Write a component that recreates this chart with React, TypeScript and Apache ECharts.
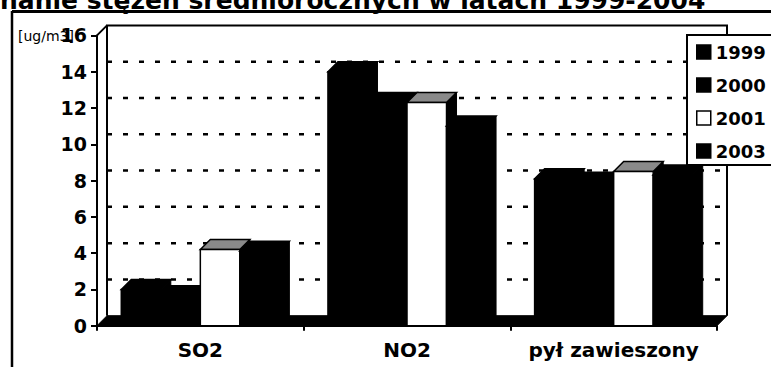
import React, { useEffect, useRef } from "react";
import * as echarts from "echarts";

const categories = ["SO2", "NO2", "pył zawieszony"];
const years = ["1999", "2000", "2001", "2003"];
const values1999 = [2.0, 14.0, 8.1];
const values2000 = [1.65, 12.3, 7.9];
const values2001 = [4.2, 12.3, 8.5];
const values2003 = [4.1, 11.0, 8.3];
const gridValues = [2, 4, 6, 8, 10, 12, 14];
const titleText = "nanie stężeń średniorocznych w latach 1999-2004";
const unitLabel = "[ug/m3]";

const FONT = "DejaVu Sans";
const D = 10; // 3D depth in px
const GROUP_FRACTION = 0.765;

const seriesValues = [values1999, values2000, values2001, values2003];
const frontColors = ["#000", "#000", "#fff", "#000"];
const topColors = ["#000", "#000", "#8a8a8a", "#000"];

function makeBarRender(idx: number) {
  return (params: any, api: any) => {
    const ci = api.value(0);
    const v = api.value(1);
    const base = api.coord([ci, 0]);
    const tp = api.coord([ci, v]);
    const band = api.size([1, 0])[0];
    const gw = band * GROUP_FRACTION;
    const bw = gw / 4;
    const x0 = base[0] - gw / 2 + idx * bw;
    const x1 = x0 + bw;
    const yb = base[1];
    const yt = tp[1];
    return {
      type: "group",
      children: [
        {
          type: "polygon",
          shape: { points: [[x1, yt], [x1 + D, yt - D], [x1 + D, yb - D], [x1, yb]] },
          style: { fill: "#000", stroke: "#000", lineWidth: 1 },
        },
        {
          type: "polygon",
          shape: { points: [[x0, yt], [x0 + D, yt - D], [x1 + D, yt - D], [x1, yt]] },
          style: { fill: topColors[idx], stroke: "#000", lineWidth: 1.5 },
        },
        {
          type: "rect",
          shape: { x: x0, y: yt, width: bw, height: yb - yt },
          style: { fill: frontColors[idx], stroke: "#000", lineWidth: 1.5 },
        },
      ],
    };
  };
}

export default function App() {
  const ref = useRef<HTMLDivElement>(null);
  useEffect(() => {
    if (!ref.current) return;
    const chart = echarts.init(ref.current, undefined, { renderer: "svg" });

    const frameRender = (params: any, api: any) => {
      const cs = params.coordSys;
      const xl = cs.x;
      const xr = cs.x + cs.width;
      const yTop = cs.y;
      const yb = cs.y + cs.height;
      return {
        type: "group",
        children: [
          {
            type: "polyline",
            shape: { points: [[xl + D, yb - D], [xl + D, yTop - D], [xr + D, yTop - D], [xr + D, yb - D]] },
            style: { fill: "none", stroke: "#000", lineWidth: 2 },
          },
          {
            type: "line",
            shape: { x1: xl, y1: yTop, x2: xl + D, y2: yTop - D },
            style: { stroke: "#000", lineWidth: 2 },
          },
          {
            type: "polygon",
            shape: { points: [[xl, yb], [xr, yb], [xr + D, yb - D], [xl + D, yb - D]] },
            style: { fill: "#000", stroke: "#000", lineWidth: 1 },
          },
        ],
      };
    };

    const gridRender = (params: any, api: any) => {
      const cs = params.coordSys;
      const y = api.coord([0, api.value(1)])[1] - D;
      return {
        type: "line",
        shape: { x1: cs.x + D, y1: y, x2: cs.x + cs.width + D, y2: y },
        style: { stroke: "#000", lineWidth: 2.5, lineDash: [5, 11] },
      };
    };

    const barSeries = years.map((y, i) => ({
      type: "custom",
      name: y,
      renderItem: makeBarRender(i),
      data: seriesValues[i].map((v, ci) => [ci, v]),
      encode: { x: 0, y: 1 },
      itemStyle: { color: frontColors[i], borderColor: "#000" },
      clip: false,
      z: 5,
    }));

    chart.setOption({
      animation: false,
      backgroundColor: "#fff",
      grid: { left: 97, right: 54, top: 35.4, bottom: 41.3 },
      xAxis: {
        type: "category",
        data: categories,
        boundaryGap: true,
        axisLine: { show: true, lineStyle: { color: "#000", width: 2 } },
        axisTick: { show: true, length: 5, lineStyle: { color: "#000", width: 2 } },
        axisLabel: {
          interval: 0,
          margin: 14,
          color: "#000",
          fontFamily: FONT,
          fontWeight: "bold",
          fontSize: 20,
        },
        splitLine: { show: false },
      },
      yAxis: {
        type: "value",
        min: 0,
        max: 16,
        interval: 2,
        axisLine: { show: true, lineStyle: { color: "#000", width: 2 } },
        axisTick: { show: true, length: 6, lineStyle: { color: "#000", width: 2 } },
        axisLabel: {
          margin: 10,
          color: "#000",
          fontFamily: FONT,
          fontWeight: "bold",
          fontSize: 19,
        },
        splitLine: { show: false },
      },
      legend: {
        orient: "vertical",
        left: 687,
        top: 35,
        padding: [7, 30, 4, 9],
        itemGap: 13,
        itemWidth: 14,
        itemHeight: 14,
        selectedMode: false,
        backgroundColor: "#fff",
        borderColor: "#000",
        borderWidth: 2,
        textStyle: {
          color: "#000",
          fontFamily: FONT,
          fontWeight: "bold",
          fontSize: 18,
          lineHeight: 20,
        },
        data: years.map((y, i) => ({
          name: y,
          icon: "rect",
          itemStyle: { color: frontColors[i], borderColor: "#000", borderWidth: 1.5 },
        })),
        z: 20,
      },
      graphic: [
        {
          type: "text",
          left: 0,
          top: -12,
          style: {
            text: titleText,
            fill: "#000",
            font: `bold 25px "${FONT}"`,
          },
          z: 30,
        },
        {
          type: "line",
          shape: { x1: 12, y1: 11.5, x2: 771, y2: 11.5 },
          style: { stroke: "#000", lineWidth: 3 },
          z: 30,
        },
        {
          type: "line",
          shape: { x1: 12, y1: 11, x2: 12, y2: 367 },
          style: { stroke: "#000", lineWidth: 2.5 },
          z: 30,
        },
        {
          type: "text",
          x: 18,
          y: 36,
          style: {
            text: unitLabel,
            fill: "#000",
            font: `14px "${FONT}"`,
            verticalAlign: "middle",
          },
          z: 30,
        },
      ],
      series: [
        {
          type: "custom",
          name: "frame",
          renderItem: frameRender,
          data: [[0, 0]],
          encode: { x: 0, y: 1 },
          clip: false,
          silent: true,
          z: 1,
        },
        {
          type: "custom",
          name: "grid",
          renderItem: gridRender,
          data: gridValues.map((v) => [0, v]),
          encode: { x: 0, y: 1 },
          clip: false,
          silent: true,
          z: 2,
        },
        ...barSeries,
      ],
    });
    return () => chart.dispose();
  }, []);
  return (
    <div
      ref={ref}
      style={{ position: "absolute", left: 0, top: 0, width: 771, height: 367, background: "#fff" }}
    />
  );
}
